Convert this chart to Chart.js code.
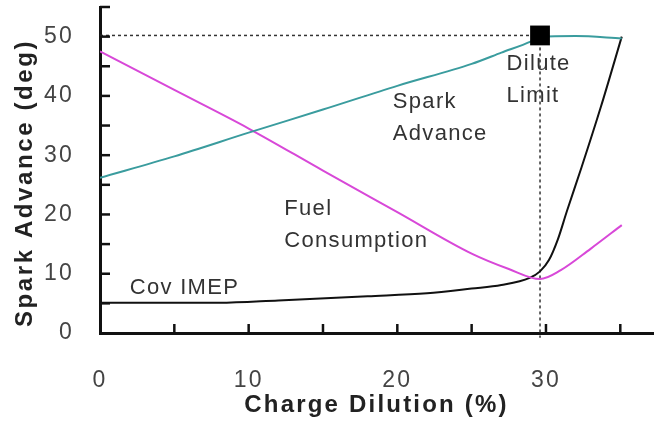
<!DOCTYPE html>
<html>
<head>
<meta charset="utf-8">
<script src="https://cdn.jsdelivr.net/npm/chart.js@4.4.0/dist/chart.umd.min.js"></script>
<style>
  html, body { margin: 0; padding: 0; background: #fff; }
  #wrap { width: 662px; height: 423px; }
</style>
</head>
<body>
<div id="wrap"><canvas id="dilutionChart" width="662" height="423"></canvas></div>
<script>
// Spark advance (deg) against charge dilution (%)
var sparkX = [0, 5, 10, 15, 20, 25, 27, 29, 29.6, 32, 35.1];
var sparkY = [26.2, 29.8, 33.8, 37.7, 41.7, 45.4, 47.3, 49.2, 50.0, 50.1, 49.7];

// Fuel consumption (same axis, arbitrary units)
var fuelX = [0, 5, 10, 15, 20, 25, 27.5, 29.6, 31, 33, 35.1];
var fuelY = [47.5, 41.0, 34.5, 27.4, 20.4, 13.4, 10.8, 9.1, 10.6, 14.2, 18.2];

// Cov IMEP
var covX = [0, 8, 12, 18, 22, 25, 27, 28.9, 29.6, 30.2, 30.8, 31.4, 32.4, 33.7, 35.1];
var covY = [5.1, 5.1, 5.5, 6.2, 6.7, 7.5, 8.1, 9.3, 10.4, 12.3, 15.8, 20.5, 28, 38.2, 50];

// Dilute limit point
var limitX = [29.6];
var limitY = [50.2];

// Labelled tick values
var xTicks = [0, 10, 20, 30];
var yTicks = [0, 10, 20, 30, 40, 50];

// Text written on the plot: text, x, y (data units, baseline)
var notes = [
  ["Spark", 19.7, 38.0],
  ["Advance", 19.7, 32.6],
  ["Dilute", 27.35, 44.4],
  ["Limit", 27.35, 39.0],
  ["Fuel", 12.4, 19.9],
  ["Consumption", 12.4, 14.5],
  ["Cov IMEP", 2.0, 6.6]
];

var FONT = '"Liberation Sans", Arial, sans-serif';

function toPoints(xs, ys) {
  return xs.map(function (x, i) { return { x: x, y: ys[i] }; });
}

// inward tick marks, y title and the text notes
var axisMarks = {
  id: "axisMarks",
  beforeDraw: function (chart) {
    chart.ctx.letterSpacing = "2.2px";
  },
  afterDatasetsDraw: function (chart) {
    var ctx = chart.ctx;
    var xs = chart.scales.x, ys = chart.scales.y, area = chart.chartArea;
    ctx.save();
    ctx.strokeStyle = "#111";
    ctx.lineWidth = 2.5;
    xs.ticks.forEach(function (t) {
      if (t.value <= 0) return;
      var px = xs.getPixelForValue(t.value);
      ctx.beginPath();
      ctx.moveTo(px, area.bottom);
      ctx.lineTo(px, area.bottom - 9);
      ctx.stroke();
    });
    ys.ticks.forEach(function (t) {
      if (t.value <= 0) return;
      var py = ys.getPixelForValue(t.value);
      ctx.beginPath();
      ctx.moveTo(area.left, py);
      ctx.lineTo(area.left + 10, py);
      ctx.stroke();
    });

    // y axis title (drawn by hand so it is not squeezed)
    ctx.save();
    ctx.translate(25, 183);
    ctx.rotate(-Math.PI / 2);
    ctx.font = "bold 24px " + FONT;
    ctx.letterSpacing = "2.6px";
    ctx.fillStyle = "#222";
    ctx.textAlign = "center";
    ctx.textBaseline = "middle";
    ctx.fillText(ys.options.title.text, 0, 0);
    ctx.restore();

    ctx.font = "22px " + FONT;
    ctx.letterSpacing = "1.3px";
    ctx.fillStyle = "#333";
    ctx.textAlign = "left";
    ctx.textBaseline = "alphabetic";
    notes.forEach(function (n) {
      ctx.fillText(n[0], xs.getPixelForValue(n[1]), ys.getPixelForValue(n[2]));
    });
    ctx.restore();
  }
};

var ctx = document.getElementById("dilutionChart").getContext("2d");
var chart = new Chart(ctx, {
  type: "line",
  data: {
    datasets: [
      {
        label: "Dilute Limit",
        data: toPoints(limitX, limitY),
        showLine: false,
        pointStyle: "rect",
        pointRadius: 14,
        backgroundColor: "#000",
        borderColor: "#000",
        borderWidth: 0
      },
      {
        label: "Spark Advance",
        data: toPoints(sparkX, sparkY),
        borderColor: "#3a9c9e",
        borderWidth: 2,
        pointRadius: 0,
        cubicInterpolationMode: "monotone",
        fill: false
      },
      {
        label: "Fuel Consumption",
        data: toPoints(fuelX, fuelY),
        borderColor: "#d848d8",
        borderWidth: 2,
        pointRadius: 0,
        cubicInterpolationMode: "monotone",
        fill: false
      },
      {
        label: "Cov IMEP",
        data: toPoints(covX, covY),
        borderColor: "#111",
        borderWidth: 2,
        pointRadius: 0,
        cubicInterpolationMode: "monotone",
        fill: false
      },
      {
        label: "limit h",
        data: [{ x: 0, y: limitY[0] }, { x: limitX[0], y: limitY[0] }],
        borderColor: "#333",
        borderWidth: 1.5,
        borderDash: [3, 3],
        pointRadius: 0,
        fill: false
      },
      {
        label: "limit v",
        data: [{ x: limitX[0], y: limitY[0] }, { x: limitX[0], y: -0.8 }],
        borderColor: "#333",
        borderWidth: 1.5,
        borderDash: [3, 3],
        pointRadius: 0,
        fill: false,
        clip: false
      }
    ]
  },
  options: {
    responsive: false,
    animation: false,
    layout: { autoPadding: false, padding: { top: 7, right: 9, left: 0, bottom: 0 } },
    plugins: {
      legend: { display: false },
      tooltip: { enabled: false }
    },
    scales: {
      x: {
        type: "linear",
        min: 0,
        max: 37.2,
        afterFit: function (s) {
          s.height = 90;
          s.paddingLeft = 0;
          s.paddingRight = 0;
        },
        grid: { display: false, drawTicks: false },
        border: { display: true, color: "#111", width: 3 },
        ticks: {
          stepSize: 5,
          includeBounds: false,
          autoSkip: false,
          maxRotation: 0,
          padding: 34,
          color: "#444",
          font: { size: 23, family: FONT },
          callback: function (v) { return xTicks.indexOf(v) >= 0 ? String(v) : ""; }
        },
        title: {
          display: true,
          text: "Charge Dilution (%)",
          color: "#222",
          font: { size: 24, weight: "bold", family: FONT },
          padding: { top: 0, bottom: 3 }
        }
      },
      y: {
        type: "linear",
        min: 0,
        max: 55,
        afterFit: function (s) {
          s.width = 100;
          s.paddingTop = 0;
          s.paddingBottom = 0;
        },
        grid: { display: false, drawTicks: false },
        border: { display: true, color: "#111", width: 3 },
        ticks: {
          stepSize: 5,
          includeBounds: false,
          autoSkip: false,
          padding: 26,
          color: "#444",
          font: { size: 23, family: FONT },
          callback: function (v) { return yTicks.indexOf(v) >= 0 ? String(v) : ""; }
        },
        title: {
          display: false,
          text: "Spark Advance (deg)"
        }
      }
    }
  },
  plugins: [axisMarks]
});
</script>
</body>
</html>
